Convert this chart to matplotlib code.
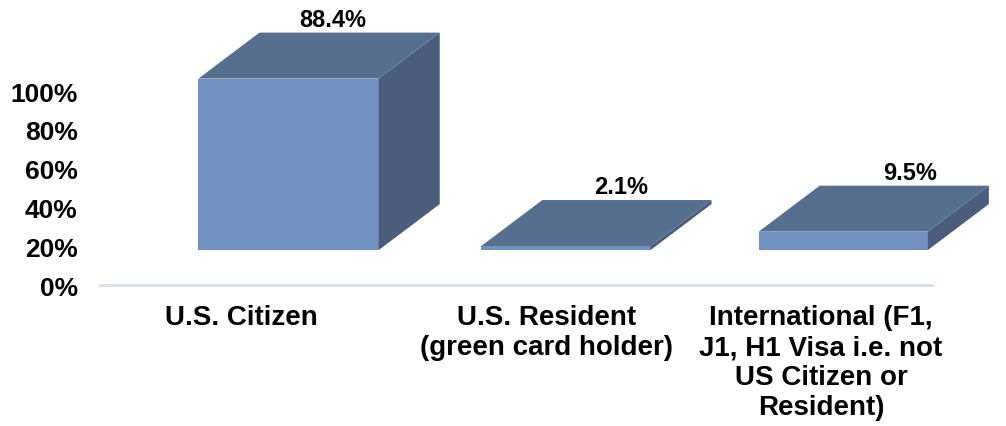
import numpy as np
import matplotlib
matplotlib.use("Agg")
import matplotlib.pyplot as plt
from matplotlib.patches import Polygon

plt.rcParams['font.family'] = ['Liberation Sans', 'DejaVu Sans']
plt.rcParams['font.weight'] = 'bold'

categories = ["U.S. Citizen",
              "U.S. Resident\n(green card holder)",
              "International (F1,\nJ1, H1 Visa i.e. not\nUS Citizen or\nResident)"]
values = [88.4, 2.1, 9.5]
value_labels = ["88.4%", "2.1%", "9.5%"]
yticks = [0, 20, 40, 60, 80, 100]
ytick_labels = ["0%", "20%", "40%", "60%", "80%", "100%"]

front_col = '#7191c1'
top_col = '#566f8f'
side_col = '#4a5d7d'
axis_col = '#d5dfee'

# 3d look: front face offset and depth (in data units)
off_x, off_y = 0.18, 18.0
dep_x, dep_y = 0.22, 23.7
widths = [0.65, 0.61, 0.61]
label_dx = [0.16, 0.2, 0.24]

fig = plt.figure(figsize=(10.06, 4.27), dpi=100)
ax = fig.add_axes([100/1006, 141/427, 832/1006, 194/427])
ax.set_xlim(0, 3)
ax.set_ylim(0, 100)

for i, v in enumerate(values):
    x0 = i + 0.5 + off_x - widths[i]/2
    x1 = x0 + widths[i]
    y0 = off_y
    y1 = off_y + v
    front = Polygon([(x0, y0), (x1, y0), (x1, y1), (x0, y1)], closed=True,
                    facecolor=front_col, edgecolor='none', clip_on=False)
    top = Polygon([(x0, y1), (x1, y1), (x1 + dep_x, y1 + dep_y), (x0 + dep_x, y1 + dep_y)],
                  closed=True, facecolor=top_col, edgecolor='none', clip_on=False)
    side = Polygon([(x1, y0), (x1 + dep_x, y0 + dep_y), (x1 + dep_x, y1 + dep_y), (x1, y1)],
                   closed=True, facecolor=side_col, edgecolor='none', clip_on=False)
    for p in (front, side, top):
        ax.add_patch(p)
    ax.text((x0 + x1)/2 + label_dx[i], y1 + dep_y + 1.0, value_labels[i], ha='center', va='bottom',
            fontsize=17, fontweight='bold', color='black', clip_on=False)

offsets = [0.01, 0.11, 0.1]
for i, c in enumerate(categories):
    ax.text(i + 0.5 + offsets[i], -10.0, c, ha='center', va='top', fontsize=20,
            fontweight='bold', linespacing=1.2, clip_on=False)

ax.set_yticks(yticks)
ax.set_yticklabels(ytick_labels, fontsize=19, fontweight='bold')
ax.set_xticks([])
ax.tick_params(axis='y', length=0, pad=16)
for s in ['top', 'right', 'left']:
    ax.spines[s].set_visible(False)
ax.spines['bottom'].set_color(axis_col)
ax.spines['bottom'].set_linewidth(2)
ax.patch.set_alpha(0)

fig.savefig('out.png', dpi=100)
